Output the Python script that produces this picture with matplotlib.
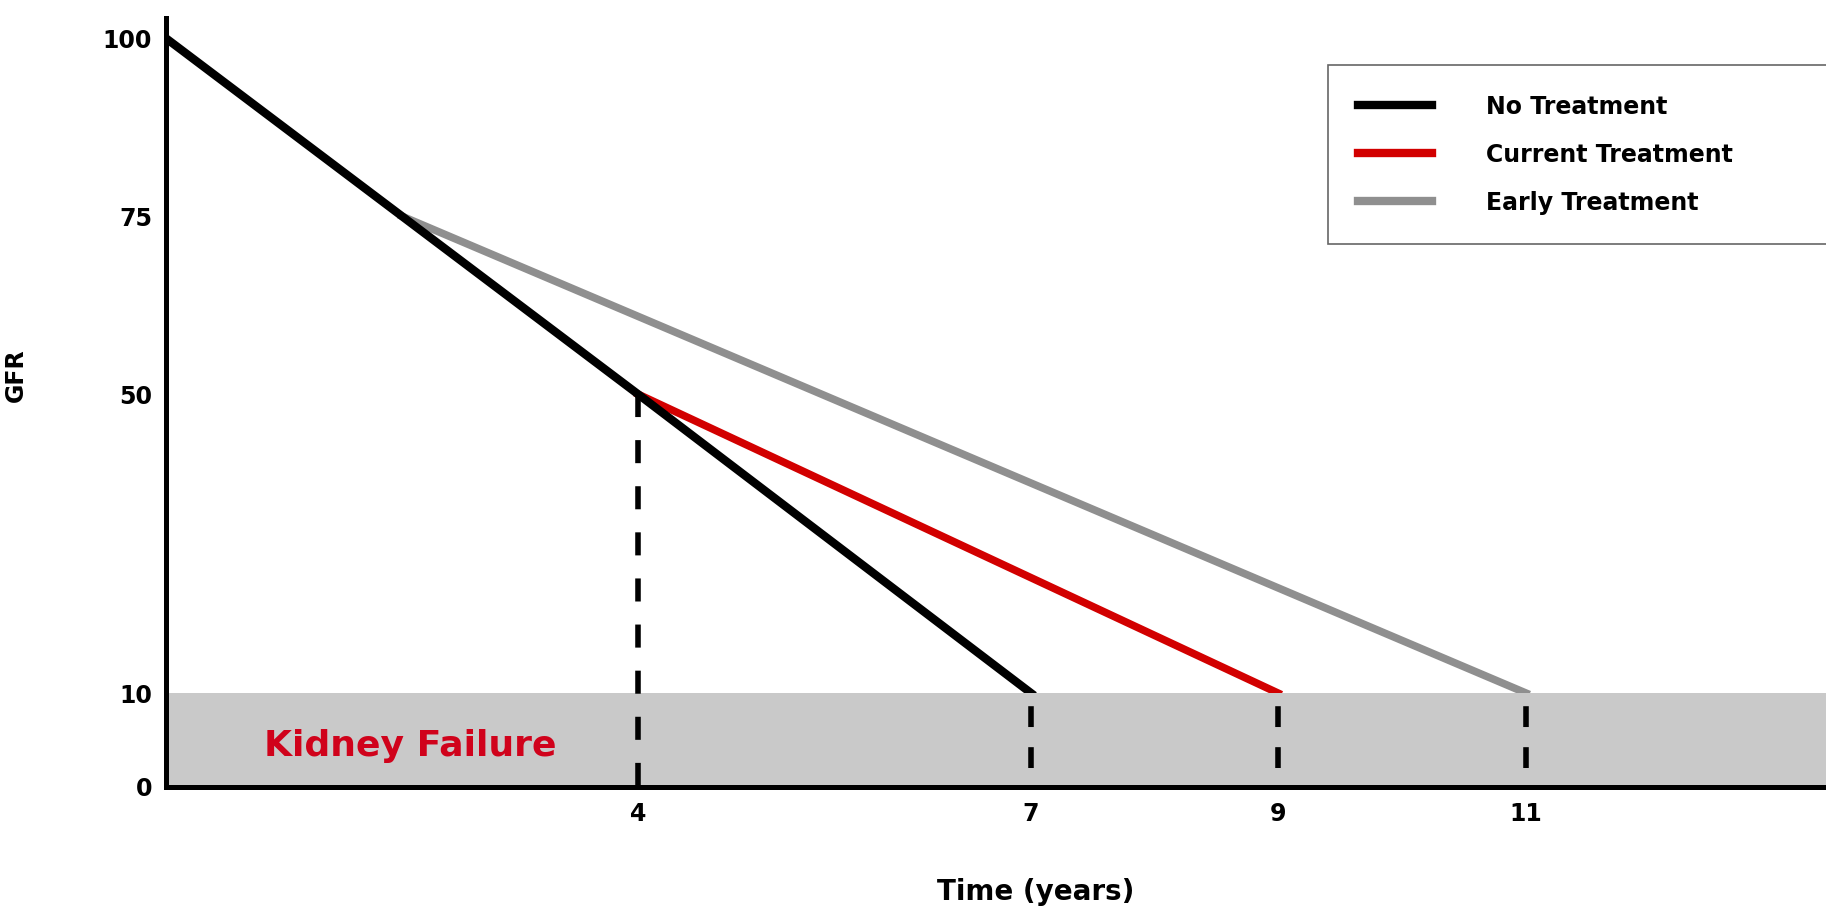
import numpy as np
import matplotlib.pyplot as plt
from matplotlib.lines import Line2D

# GFR decline per scenario (years, GFR)
years_none = [0, 4, 7]
gfr_none = [100, 50, 10]
years_current = [4, 9]
gfr_current = [50, 10]
years_early = [2, 11]
gfr_early = [75, 10]

failure_gfr = 10
marker_years = [4, 7, 9, 11]
marker_gfr = [50, 10, 10, 10]

x_ticks = [4, 7, 9, 11]
y_ticks = [0, 10, 50, 75, 100]
labels = ['No Treatment', 'Current Treatment', 'Early Treatment']
colors = ['black', '#d20000', '#8f8f8f']

# the original drawing is schematic (not to scale), so map axes piecewise
x_knots = [0, 4, 7, 9, 11, 14]
x_pos = [0, 472, 865, 1112, 1360, 1732]
y_knots = [0, 10, 50, 75, 100, 110]
y_pos = [0, 94, 393, 571, 749, 819]

plt.rcParams['font.family'] = 'DejaVu Sans'
plt.rcParams['font.weight'] = 'bold'
plt.rcParams['lines.scale_dashes'] = False

fig = plt.figure(figsize=(18.26, 9.07), dpi=100)
ax = fig.add_axes([166 / 1826, 120 / 907, 1660 / 1826, 769 / 907])

ax.set_xscale('function', functions=(lambda v: np.interp(v, x_knots, x_pos),
                                     lambda p: np.interp(p, x_pos, x_knots)))
ax.set_yscale('function', functions=(lambda v: np.interp(v, y_knots, y_pos),
                                     lambda p: np.interp(p, y_pos, y_knots)))
ax.set_xlim(0, 13.42)
ax.set_ylim(0, 102.9)

# kidney failure band (drawn over line ends so they cut flat)
ax.axhspan(0, failure_gfr, color='#c9c9c9', lw=0, zorder=2.2)

ax.plot(years_early, gfr_early, color=colors[2], lw=5.5,
        solid_capstyle='projecting', zorder=2.0)
ax.plot(years_current, gfr_current, color=colors[1], lw=5.5,
        solid_capstyle='projecting', zorder=2.05)
ax.plot(years_none, gfr_none, color=colors[0], lw=6,
        solid_capstyle='projecting', zorder=2.1)

for x, top in zip(marker_years, marker_gfr):
    if top > failure_gfr:
        ls = (0, (16.6, 16.6))
    else:
        ls = (20, (15, 14.5))
    ax.plot([x, x], [top, 0], color='black', lw=4, linestyle=ls,
            dash_capstyle='butt', zorder=2.3)

ax.text((410 - 166) / 1660, (787 - 746) / 769, 'Kidney Failure',
        transform=ax.transAxes, color='#d0021b', fontsize=26,
        fontweight='bold', ha='center', va='center', zorder=3)

for side in ['top', 'right']:
    ax.spines[side].set_visible(False)
for side in ['left', 'bottom']:
    ax.spines[side].set_linewidth(3.6)
    ax.spines[side].set_color('black')

ax.set_xticks(x_ticks)
ax.set_xticklabels([str(t) for t in x_ticks])
ax.set_yticks(y_ticks)
ax.set_yticklabels([str(t) for t in y_ticks])
ax.xaxis.set_minor_locator(plt.NullLocator())
ax.yaxis.set_minor_locator(plt.NullLocator())
ax.tick_params(axis='x', length=0, labelsize=17, pad=11)
ax.tick_params(axis='y', length=0, labelsize=17, pad=10)

ax.set_ylabel('GFR', fontsize=17, fontweight='bold')
ax.yaxis.set_label_coords((28 - 166) / 1660, (787 - 375) / 769)
ax.set_xlabel('Time (years)', fontsize=20, fontweight='bold', va='center')
ax.xaxis.set_label_coords((1036 - 166) / 1660, (787 - 892) / 769)

handles = [Line2D([], [], color=c, lw=6) for c in colors]
leg = fig.legend(handles, labels, loc='upper left',
                 bbox_to_anchor=(1328 / 1826, 1 - 249 / 907, 0.4, 184 / 907),
                 mode='expand', borderaxespad=0, fontsize=17,
                 handlelength=3.15, handletextpad=2.3, labelspacing=1.02,
                 borderpad=1.25, fancybox=False, framealpha=1)
leg.get_frame().set_edgecolor('#666666')
leg.get_frame().set_linewidth(1.2)

fig.savefig('out.png', dpi=100, facecolor='white')
